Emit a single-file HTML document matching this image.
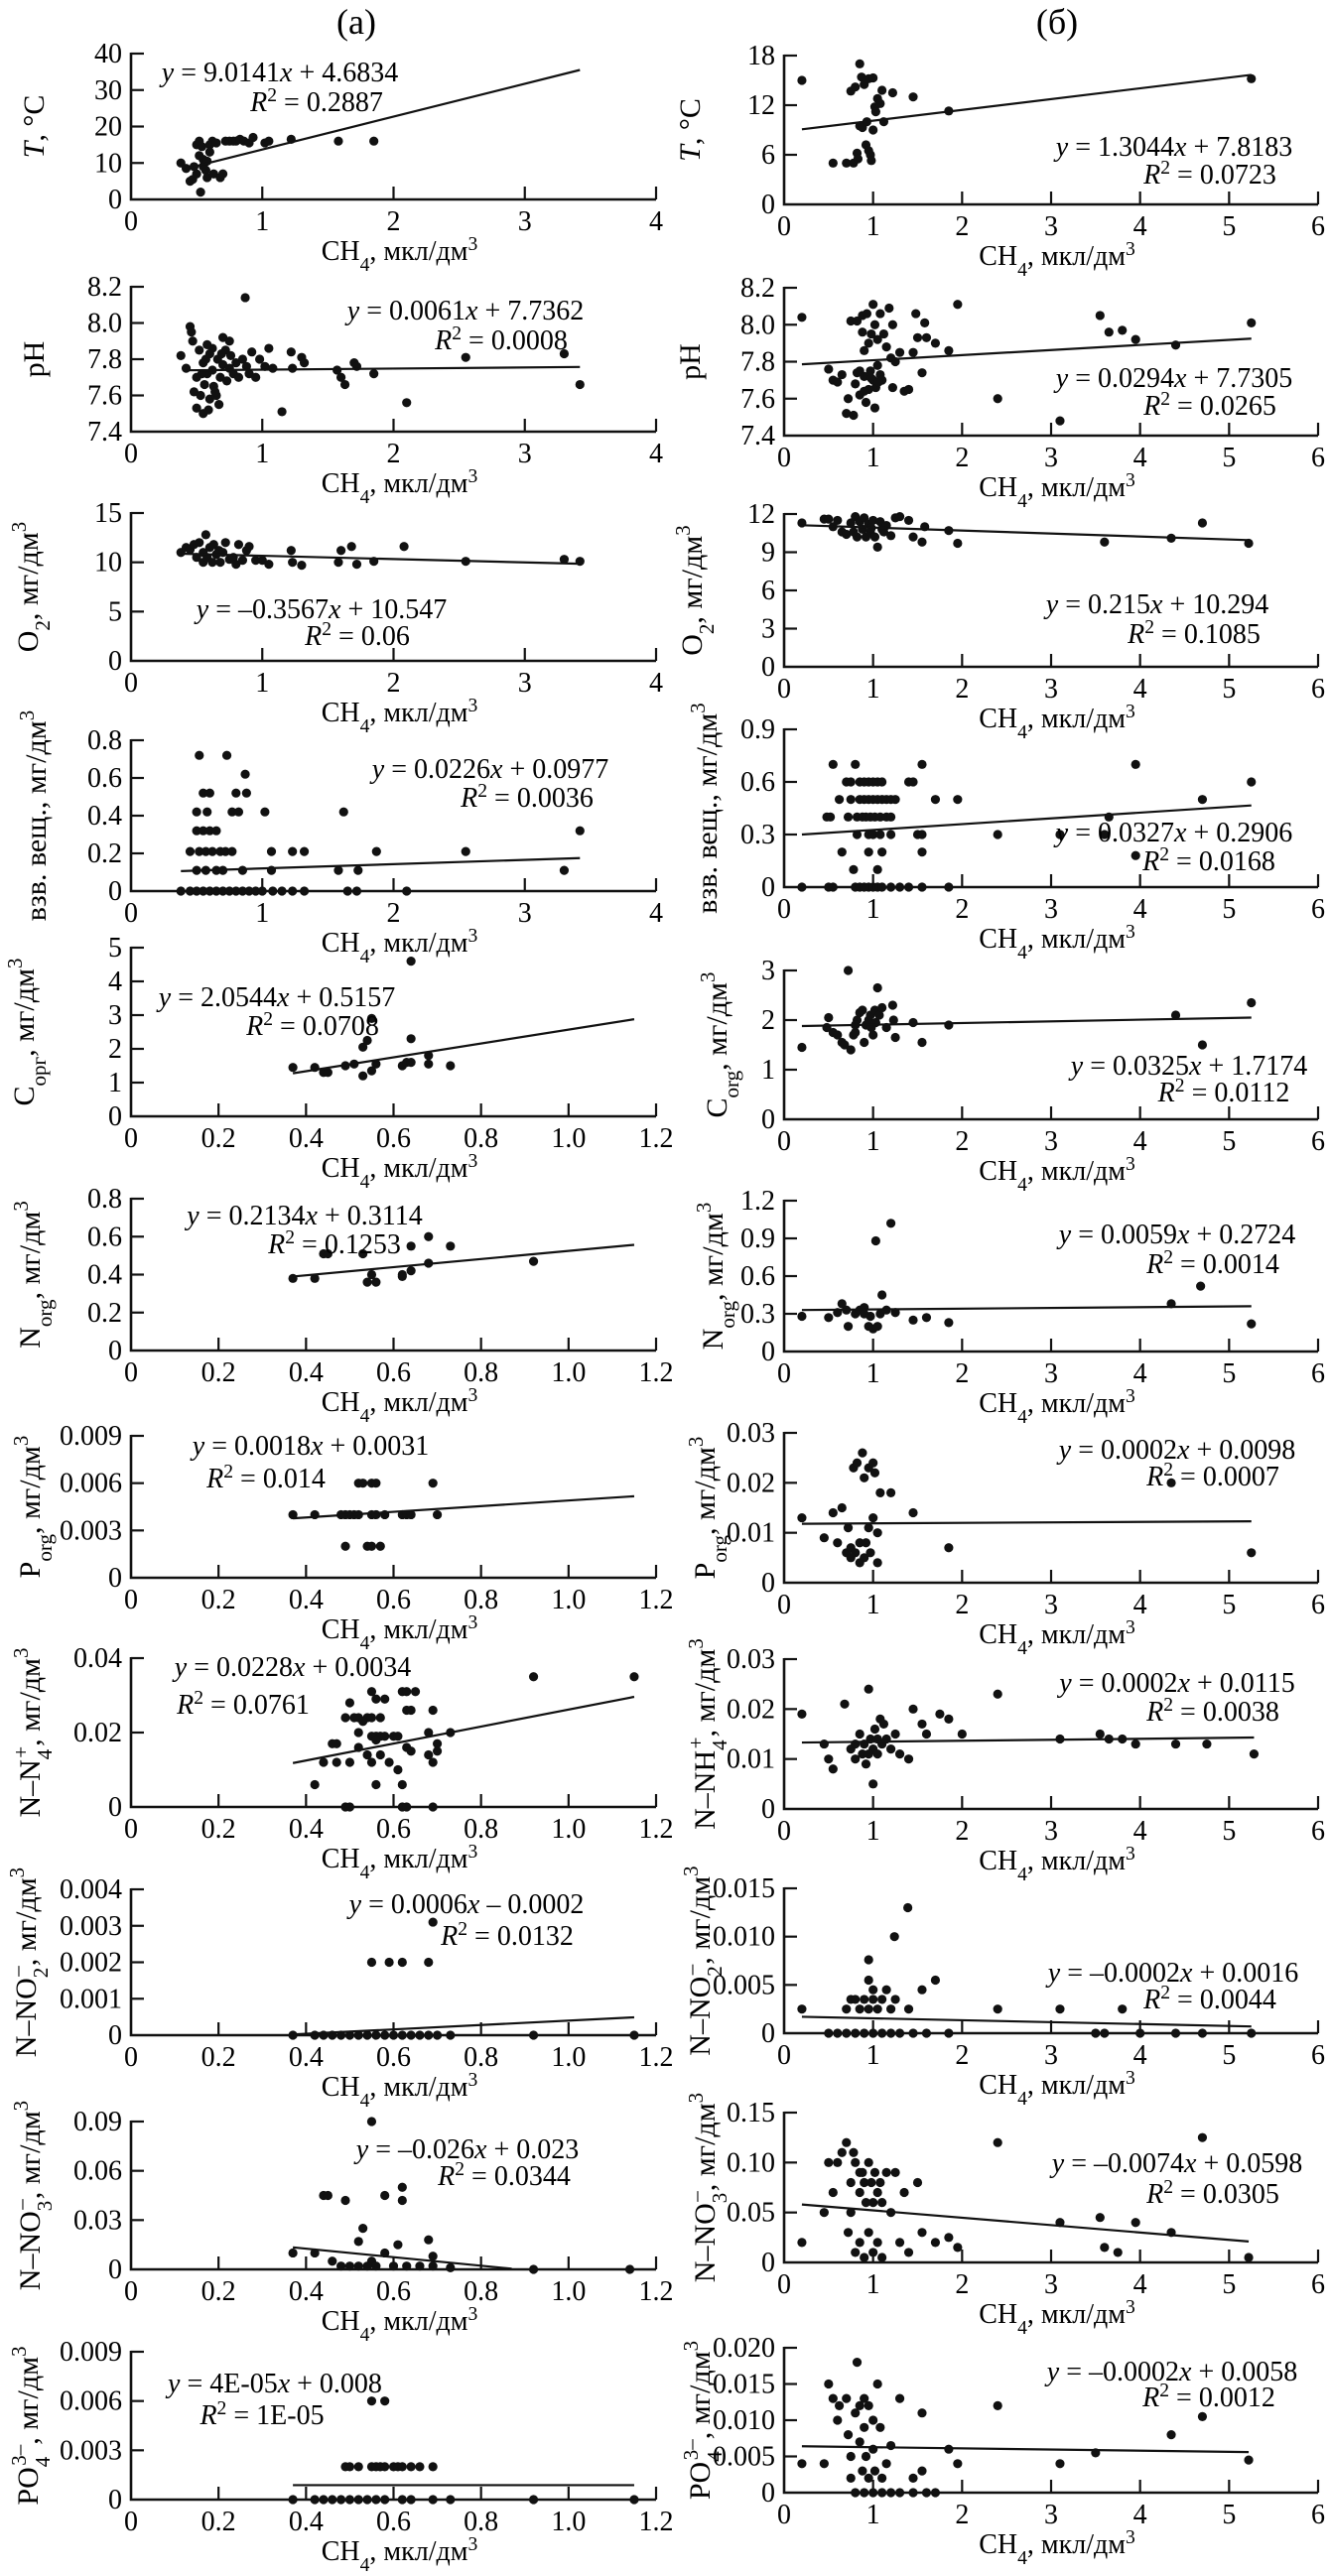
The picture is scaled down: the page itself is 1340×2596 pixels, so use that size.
<!DOCTYPE html>
<html><head><meta charset="utf-8">
<style>
html,body{margin:0;padding:0;background:#fff;}
svg{display:block;font-family:"Liberation Serif",serif;}
</style></head>
<body>
<svg id="fig" width="1340" height="2596" viewBox="0 0 1340 2596" xmlns="http://www.w3.org/2000/svg">
<text x="359" y="34" font-size="36" text-anchor="middle">(a)</text>
<text x="1065" y="34" font-size="36" text-anchor="middle">(б)</text>
</svg>
<script>
// ---------- data: [CH4, value] pairs per panel ----------
const ptsT_a=[[.38,10],[.42,8.5],[.45,5],[.47,5.5],[.5,7],[.5,15],[.52,16],[.53,2],[.54,14.5],[.55,11],[.56,10],[.57,8],[.58,6],[.6,15],[.62,16],[.63,7],[.65,15.5],[.68,6],[.7,7],[.72,16],[.75,16],[.78,16],[.8,16],[.83,16.5],[.86,16],[.9,15.5],[.93,17],[1.02,15.5],[1.05,16],[1.22,16.5],[1.58,16],[1.85,16],[.52,12],[.55,9],[.58,10.5],[.6,13],[.48,9]];
const ptsPH_a=[[.38,7.82],[.42,7.75],[.45,7.98],[.46,7.95],[.47,7.9],[.48,7.62],[.5,7.53],[.5,7.7],[.52,7.85],[.53,7.6],[.55,7.78],[.55,7.5],[.56,7.66],[.57,7.8],[.58,7.72],[.6,7.83],[.6,7.58],[.62,7.86],[.62,7.74],[.63,7.65],[.65,7.6],[.66,7.8],[.67,7.55],[.68,7.7],[.7,7.92],[.7,7.77],[.72,7.85],[.73,7.68],[.75,7.75],[.76,7.82],[.78,7.72],[.8,7.78],[.82,7.7],[.85,7.8],[.87,8.14],[.88,7.76],[.9,7.72],[.92,7.84],[.95,7.7],[.98,7.8],[1.02,7.76],[1.05,7.86],[1.08,7.75],[1.15,7.51],[1.22,7.84],[1.23,7.75],[1.3,7.81],[1.32,7.78],[1.57,7.74],[1.6,7.7],[1.63,7.66],[1.7,7.78],[1.72,7.76],[1.85,7.72],[2.1,7.56],[2.55,7.81],[3.3,7.83],[3.42,7.66],[.58,7.88],[.64,7.62],[.69,7.83],[.54,7.72],[.59,7.52],[.75,7.9]];
const ptsO2_a=[[.38,11],[.42,11.5],[.45,11.3],[.48,11.8],[.5,10.5],[.52,12],[.55,11],[.55,10],[.57,12.8],[.58,10.5],[.6,11.5],[.62,10],[.63,11.8],[.65,10.8],[.67,11.2],[.68,10],[.7,11],[.72,12],[.75,10.3],[.78,10.5],[.8,9.8],[.82,11.8],[.85,10.2],[.88,11.2],[.9,11.6],[.95,10.2],[1.0,10.2],[1.05,9.8],[1.22,11.2],[1.23,10],[1.3,9.7],[1.58,10],[1.6,11.2],[1.68,11.6],[1.72,9.8],[1.85,10.1],[2.08,11.6],[2.55,10.1],[3.3,10.3],[3.42,10.1]];
const ptsSS_a=[[.52,.72],[.73,.72],[.87,.62],[.55,.52],[.6,.52],[.8,.52],[.88,.52],[.5,.42],[.58,.42],[.77,.42],[.82,.42],[1.02,.42],[1.62,.42],[.5,.32],[.55,.32],[.6,.32],[.65,.32],[3.42,.32],[.45,.21],[.52,.21],[.57,.21],[.62,.21],[.68,.21],[.72,.21],[.77,.21],[1.07,.21],[1.23,.21],[1.32,.21],[1.87,.21],[2.55,.21],[.5,.11],[.57,.11],[.65,.11],[.7,.11],[.85,.11],[1.07,.11],[1.58,.11],[1.73,.11],[3.3,.11],[.38,0],[.45,0],[.5,0],[.55,0],[.6,0],[.65,0],[.7,0],[.75,0],[.8,0],[.85,0],[.9,0],[.95,0],[1.0,0],[1.08,0],[1.15,0],[1.23,0],[1.32,0],[1.65,0],[1.72,0],[2.1,0]];
const ptsC_a=[[.37,1.45],[.42,1.45],[.44,1.3],[.45,1.3],[.49,1.5],[.51,1.55],[.53,1.2],[.53,2.05],[.54,2.25],[.55,2.9],[.55,1.35],[.56,1.55],[.62,1.5],[.63,1.6],[.64,1.6],[.64,2.3],[.64,4.6],[.68,1.8],[.68,1.55],[.73,1.5]];
const ptsN_a=[[.37,.38],[.42,.38],[.44,.51],[.45,.51],[.53,.51],[.54,.36],[.55,.4],[.56,.36],[.62,.4],[.62,.39],[.64,.42],[.64,.55],[.68,.46],[.68,.6],[.73,.55],[.92,.47]];
const ptsP_a=[[.52,.006],[.53,.006],[.55,.006],[.56,.006],[.69,.006],[.37,.004],[.42,.004],[.48,.004],[.49,.004],[.5,.004],[.51,.004],[.52,.004],[.55,.004],[.56,.004],[.58,.004],[.62,.004],[.63,.004],[.64,.004],[.7,.004],[.49,.002],[.54,.002],[.55,.002],[.57,.002]];
const ptsNH4_a=[[.92,.035],[1.15,.035],[.55,.031],[.62,.031],[.63,.031],[.65,.031],[.56,.029],[.58,.029],[.5,.028],[.63,.026],[.64,.026],[.69,.026],[.49,.024],[.51,.024],[.52,.024],[.54,.024],[.55,.024],[.57,.024],[.53,.023],[.52,.02],[.68,.02],[.55,.019],[.56,.019],[.57,.019],[.58,.019],[.6,.019],[.61,.019],[.56,.018],[.46,.017],[.47,.017],[.7,.017],[.52,.016],[.63,.016],[.64,.015],[.7,.015],[.54,.014],[.57,.014],[.68,.014],[.44,.012],[.47,.012],[.5,.012],[.55,.012],[.59,.012],[.69,.012],[.61,.01],[.42,.006],[.56,.006],[.62,.006],[.49,0],[.5,0],[.62,0],[.63,0],[.69,0],[.73,.02]];
const ptsNO2_a=[[.69,.0031],[.55,.002],[.59,.002],[.62,.002],[.68,.002],[.37,0],[.42,0],[.44,0],[.46,0],[.48,0],[.5,0],[.52,0],[.54,0],[.56,0],[.58,0],[.6,0],[.62,0],[.64,0],[.66,0],[.68,0],[.7,0],[.73,0],[.92,0],[1.15,0]];
const ptsNO3_a=[[.55,.09],[.44,.045],[.45,.045],[.58,.045],[.49,.042],[.62,.042],[.62,.05],[.53,.025],[.52,.017],[.68,.018],[.61,.015],[.37,.01],[.42,.01],[.58,.01],[.69,.008],[.46,.005],[.55,.005],[.48,.002],[.5,.002],[.52,.002],[.54,.002],[.56,.002],[.6,.002],[.63,.002],[.66,.002],[.69,.002],[.73,.001],[.92,0],[1.14,0]];
const ptsPO4_a=[[.55,.006],[.58,.006],[.49,.002],[.5,.002],[.52,.002],[.55,.002],[.56,.002],[.57,.002],[.58,.002],[.6,.002],[.61,.002],[.62,.002],[.64,.002],[.66,.002],[.69,.002],[.37,0],[.42,0],[.44,0],[.46,0],[.48,0],[.5,0],[.52,0],[.54,0],[.56,0],[.58,0],[.62,0],[.64,0],[.69,0],[.73,0],[.92,0],[1.15,0]];

const ptsT_b=[[.2,15],[.55,5],[.7,5],[.75,13.7],[.78,5],[.8,14.2],[.82,6.2],[.83,5.5],[.85,17],[.85,9.5],[.87,15.4],[.88,9.3],[.9,14.5],[.92,7.2],[.93,10],[.95,6.5],[.95,15.2],[.97,6],[.98,5.3],[1.0,15.3],[1.0,9],[1.02,11.8],[1.03,11.2],[1.05,12.8],[1.08,12.2],[1.1,13.8],[1.12,10],[1.22,13.5],[1.45,13],[1.85,11.3],[5.25,15.2]];
const ptsPH_b=[[.2,8.04],[.5,7.76],[.55,7.7],[.6,7.69],[.65,7.73],[.7,7.52],[.72,7.6],[.75,8.02],[.78,7.51],[.8,7.68],[.82,8.02],[.85,7.62],[.85,7.75],[.88,8.05],[.88,7.96],[.9,7.72],[.9,7.86],[.92,7.58],[.93,8.06],[.95,7.65],[.95,7.9],[.97,7.75],[.98,7.95],[1.0,8.11],[1.0,7.7],[1.02,8.0],[1.02,7.55],[1.03,7.66],[1.05,7.92],[1.05,7.78],[1.08,8.06],[1.08,7.73],[1.1,7.7],[1.12,7.95],[1.15,7.88],[1.18,8.09],[1.2,7.82],[1.22,8.0],[1.22,7.66],[1.25,7.8],[1.3,7.85],[1.35,7.64],[1.4,7.65],[1.45,7.85],[1.48,8.06],[1.5,7.93],[1.55,7.74],[1.58,8.01],[1.6,7.93],[1.7,7.9],[1.85,7.86],[1.95,8.11],[2.4,7.6],[3.1,7.48],[3.55,8.05],[3.65,7.96],[3.8,7.97],[3.95,7.92],[4.4,7.89],[5.25,8.01],[.82,7.74],[.9,7.64],[.98,7.71],[1.06,7.69]];
const ptsO2_b=[[.2,11.3],[.45,11.6],[.5,11.6],[.55,11],[.6,11.5],[.65,10.6],[.7,10.4],[.75,11.3],[.8,11.8],[.82,10.2],[.85,11.4],[.88,10.8],[.9,11.7],[.92,10.2],[.95,11.2],[.97,10.6],[1.0,11.5],[1.02,10.2],[1.05,9.4],[1.08,11.4],[1.1,10.8],[1.15,11.1],[1.2,10.3],[1.25,11.7],[1.3,11.8],[1.4,11.5],[1.45,10.2],[1.55,9.8],[1.58,11],[1.85,10.7],[1.95,9.7],[3.6,9.8],[4.35,10.1],[4.7,11.3],[5.22,9.7],[.78,10.6],[.98,10.9],[1.12,10.6]];
const ptsSS_b=[[.55,.7],[.8,.7],[1.55,.7],[3.95,.7],[.7,.6],[.75,.6],[.85,.6],[.9,.6],[.95,.6],[1.0,.6],[1.05,.6],[1.1,.6],[1.4,.6],[1.45,.6],[5.25,.6],[.62,.5],[.75,.5],[.85,.5],[.9,.5],[.95,.5],[1.0,.5],[1.05,.5],[1.1,.5],[1.15,.5],[1.2,.5],[1.25,.5],[1.7,.5],[1.95,.5],[4.7,.5],[.48,.4],[.52,.4],[.72,.4],[.82,.4],[.88,.4],[.92,.4],[.97,.4],[1.02,.4],[1.08,.4],[1.15,.4],[1.2,.4],[3.65,.4],[.82,.3],[.95,.3],[1.0,.3],[1.08,.3],[1.2,.3],[1.5,.3],[1.55,.3],[2.4,.3],[3.1,.3],[3.6,.3],[.65,.2],[.95,.2],[1.1,.2],[1.55,.2],[3.95,.18],[.78,.1],[1.05,.1],[.2,0],[.5,0],[.55,0],[.8,0],[.85,0],[.9,0],[.95,0],[1.0,0],[1.05,0],[1.1,0],[1.2,0],[1.3,0],[1.4,0],[1.55,0],[1.85,0]];
const ptsC_b=[[.2,1.45],[.48,1.85],[.5,2.05],[.55,1.75],[.6,1.7],[.65,1.55],[.68,1.5],[.72,3.0],[.75,1.4],[.78,1.7],[.8,1.75],[.82,2.0],[.85,2.15],[.88,2.2],[.9,1.55],[.92,1.9],[.95,2.0],[.97,2.1],[1.0,1.7],[1.02,2.2],[1.03,1.95],[1.05,2.65],[1.07,2.1],[1.1,2.25],[1.15,1.85],[1.22,2.3],[1.23,2.0],[1.25,1.65],[1.45,1.95],[1.55,1.55],[1.85,1.9],[4.4,2.1],[4.7,1.5],[5.25,2.35],[.8,1.9],[.98,1.85]];
const ptsN_b=[[.2,.28],[.5,.27],[.65,.38],[.7,.33],[.72,.2],[.8,.3],[.85,.33],[.9,.35],[.95,.2],[.97,.28],[1.0,.18],[1.03,.88],[1.05,.2],[1.08,.3],[1.1,.45],[1.15,.33],[1.2,1.02],[1.25,.31],[1.45,.25],[1.6,.27],[1.85,.23],[4.35,.38],[4.68,.52],[5.25,.22],[.6,.31],[.9,.3]];
const ptsP_b=[[.2,.013],[.45,.009],[.55,.014],[.6,.008],[.65,.015],[.7,.006],[.72,.011],[.75,.007],[.78,.023],[.8,.006],[.82,.024],[.85,.008],[.88,.026],[.9,.005],[.9,.021],[.92,.008],[.95,.023],[.97,.006],[1.0,.024],[1.0,.013],[1.02,.022],[1.05,.01],[1.05,.004],[1.08,.018],[1.2,.018],[1.45,.014],[1.85,.007],[4.35,.02],[5.25,.006],[.75,.005],[.85,.004],[.95,.011]];
const ptsNH4_b=[[.2,.019],[.45,.013],[.5,.01],[.55,.008],[.68,.021],[.75,.012],[.8,.01],[.85,.015],[.88,.011],[.9,.013],[.92,.009],[.95,.024],[.97,.014],[1.0,.005],[1.0,.012],[1.02,.016],[1.05,.011],[1.08,.018],[1.1,.013],[1.12,.017],[1.15,.014],[1.2,.012],[1.25,.015],[1.3,.011],[1.4,.01],[1.45,.02],[1.55,.017],[1.6,.015],[1.75,.019],[1.85,.018],[2.0,.015],[2.4,.023],[3.1,.014],[3.55,.015],[3.65,.014],[3.8,.014],[3.95,.013],[4.4,.013],[4.75,.013],[5.28,.011],[.8,.013],[.95,.011],[1.05,.014]];
const ptsNO2_b=[[.2,.0025],[.7,.0025],[.75,.0035],[.8,.0035],[.85,.0025],[.9,.0035],[.95,.0025],[.95,.0055],[.95,.0076],[1.0,.0035],[1.0,.0045],[1.05,.0025],[1.1,.0035],[1.15,.0045],[1.2,.0025],[1.25,.0035],[1.24,.01],[1.39,.013],[1.4,.0025],[1.55,.0045],[1.7,.0055],[2.4,.0025],[3.1,.0025],[3.8,.0025],[.5,0],[.6,0],[.7,0],[.8,0],[.9,0],[1.0,0],[1.1,0],[1.2,0],[1.3,0],[1.45,0],[1.6,0],[1.85,0],[3.5,0],[3.6,0],[4.0,0],[4.4,0],[4.7,0],[5.25,0]];
const ptsNO3_b=[[.2,.02],[.45,.05],[.5,.1],[.55,.07],[.6,.1],[.65,.11],[.7,.12],[.72,.03],[.75,.08],[.78,.11],[.8,.1],[.8,.01],[.85,.07],[.85,.02],[.88,.09],[.9,.08],[.9,.005],[.92,.06],[.95,.1],[.95,.03],[.98,.08],[1.0,.06],[1.0,.01],[1.02,.09],[1.05,.07],[1.05,.02],[1.08,.08],[1.1,.06],[1.1,.005],[1.15,.09],[1.2,.05],[1.25,.09],[1.3,.02],[1.35,.07],[1.4,.01],[1.5,.08],[1.55,.03],[1.7,.02],[1.85,.025],[1.95,.015],[2.4,.12],[3.1,.04],[3.55,.045],[3.6,.015],[3.75,.01],[3.95,.04],[4.35,.03],[4.7,.125],[5.22,.005],[.85,.09],[.75,.05]];
const ptsPO4_b=[[.2,.004],[.45,.004],[.5,.015],[.55,.013],[.6,.01],[.62,.012],[.7,.013],[.72,.008],[.75,.005],[.75,.002],[.8,.011],[.82,.018],[.85,.012],[.85,.007],[.88,.003],[.9,.013],[.9,.009],[.92,.005],[.95,.012],[.95,.002],[1.0,.01],[1.0,.006],[1.02,.003],[1.05,.015],[1.08,.009],[1.1,.002],[1.15,.004],[1.2,.0065],[1.3,.013],[1.45,.002],[1.55,.003],[1.55,.011],[1.85,.006],[1.95,.004],[2.4,.012],[3.1,.004],[3.5,.0055],[4.35,.008],[4.7,.0105],[5.22,.0045],[.8,0],[.9,0],[1.0,0],[1.1,0],[1.2,0],[1.3,0],[1.45,0],[1.6,0],[1.7,0]];

// trend lines as [x0, y0, x1, y1] in data units
const trendsA=[[.4,8.29,3.42,35.51],[.4,7.7386,3.42,7.7571],[.38,10.87,3.42,9.85],[.38,.106,3.42,.175],[.37,1.276,1.15,2.878],[.37,.39,1.15,.557],[.37,.00377,1.15,.00517],[.37,.0118,1.15,.0296],[.37,.00002,1.15,.00049],[.37,.0134,.87,.0004],[.37,.00088,1.15,.00088]];
const trendsB=[[.2,9.08,5.25,15.67],[.2,7.786,5.25,7.925],[.2,11.12,5.22,9.95],[.2,.3,5.25,.466],[.2,1.88,5.25,2.05],[.2,.33,5.25,.36],[.2,.0118,5.25,.0123],[.2,.0133,5.28,.0143],[.2,.0017,5.25,.0007],[.2,.058,5.22,.021],[.2,.0064,5.22,.0056]];

const eqA=[["9.0141","+ 4.6834","0.2887"],["0.0061","+ 7.7362","0.0008"],["–0.3567","+ 10.547","0.06"],["0.0226","+ 0.0977","0.0036"],["2.0544","+ 0.5157","0.0708"],["0.2134","+ 0.3114","0.1253"],["0.0018","+ 0.0031","0.014"],["0.0228","+ 0.0034","0.0761"],["0.0006","– 0.0002","0.0132"],["–0.026","+ 0.023","0.0344"],["4E-05","+ 0.008","1E-05"]];
const eqB=[["1.3044","+ 7.8183","0.0723"],["0.0294","+ 7.7305","0.0265"],["0.215","+ 10.294","0.1085"],["0.0327","+ 0.2906","0.0168"],["0.0325","+ 1.7174","0.0112"],["0.0059","+ 0.2724","0.0014"],["0.0002","+ 0.0098","0.0007"],["0.0002","+ 0.0115","0.0038"],["–0.0002","+ 0.0016","0.0044"],["–0.0074","+ 0.0598","0.0305"],["–0.0002","+ 0.0058","0.0012"]];

const yTicksA=[["0","10","20","30","40"],["7.4","7.6","7.8","8.0","8.2"],["0","5","10","15"],["0","0.2","0.4","0.6","0.8"],["0","1","2","3","4","5"],["0","0.2","0.4","0.6","0.8"],["0","0.003","0.006","0.009"],["0","0.02","0.04"],["0","0.001","0.002","0.003","0.004"],["0","0.03","0.06","0.09"],["0","0.003","0.006","0.009"]];
const yTicksB=[["0","6","12","18"],["7.4","7.6","7.8","8.0","8.2"],["0","3","6","9","12"],["0","0.3","0.6","0.9"],["0","1","2","3"],["0","0.3","0.6","0.9","1.2"],["0","0.01","0.02","0.03"],["0","0.01","0.02","0.03"],["0","0.005","0.010","0.015"],["0","0.05","0.10","0.15"],["0","0.005","0.010","0.015","0.020"]];
const xTicksA4=["0","1","2","3","4"];
const xTicksA12=["0","0.2","0.4","0.6","0.8","1.0","1.2"];
const xTicksB=["0","1","2","3","4","5","6"];

// ---------- layout ----------
const SUB=s=>`<tspan baseline-shift="sub" font-size="70%">${s}</tspan>`;
const SUP=s=>`<tspan baseline-shift="super" font-size="70%">${s}</tspan>`;
const UNIT=`, мг/дм${SUP("3")}`;
const titlesA=[`<tspan font-style="italic">T</tspan>, °C`,"pH",`O${SUB("2")}${UNIT}`,`взв. вещ.,  мг/дм${SUP("3")}`,`C${SUB("орг")}${UNIT}`,`N${SUB("org")}${UNIT}`,`P${SUB("org")}${UNIT}`,`N–N${SUB("4")}<tspan dx="-9" baseline-shift="super" font-size="70%">+</tspan>${UNIT}`,`N–NO${SUB("2")}<tspan dx="-9" baseline-shift="super" font-size="70%">–</tspan>${UNIT}`,`N–NO${SUB("3")}<tspan dx="-9" baseline-shift="super" font-size="70%">–</tspan>${UNIT}`,`PO${SUB("4")}<tspan dx="-9" baseline-shift="super" font-size="70%">3–</tspan>${UNIT}`];
const titlesB=[titlesA[0],"pH",titlesA[2],titlesA[3],`C${SUB("org")}${UNIT}`,titlesA[5],titlesA[6],`N–NH${SUB("4")}<tspan dx="-9" baseline-shift="super" font-size="70%">+</tspan>${UNIT}`,titlesA[8],titlesA[9],titlesA[10]];
const panelsA=[ptsT_a,ptsPH_a,ptsO2_a,ptsSS_a,ptsC_a,ptsN_a,ptsP_a,ptsNH4_a,ptsNO2_a,ptsNO3_a,ptsPO4_a];
const panelsB=[ptsT_b,ptsPH_b,ptsO2_b,ptsSS_b,ptsC_b,ptsN_b,ptsP_b,ptsNH4_b,ptsNO2_b,ptsNO3_b,ptsPO4_b];
const names=["temperature","ph","oxygen","suspended-matter","organic-carbon","organic-nitrogen","organic-phosphorus","ammonium","nitrite","nitrate","phosphate"];
const geoA=[[54,201],[289,435],[517,666],[746,898],[955,1125],[1208,1361],[1447,1590],[1671,1821],[1904,2051],[2138,2287],[2370,2519]];
const geoB=[[56,206],[290,439],[518,672],[735,894],[978,1128],[1210,1362],[1444,1595],[1672,1823],[1903,2049],[2129,2280],[2366,2512]];
const eqPosA=[[282,82,319,112],[469,322,505,352],[324,623,360,650],[494,784,531,813],[279,1014,315,1043],[307,1234,337,1263],[313,1466,268,1499],[295,1689,245,1727],[470,1928,511,1960],[471,2175,508,2202],[277,2411,264,2443]];
const eqPosB=[[1183,157,1219,185],[1183,390,1219,418],[1166,618,1203,648],[1183,848,1218,877],[1198,1083,1233,1110],[1186,1253,1222,1283],[1186,1470,1222,1497],[1186,1705,1222,1734],[1182,1997,1219,2024],[1186,2189,1222,2220],[1181,2399,1218,2425]];
const titleXA=[44,44,38,46,34,40,40,40,36,40,38];
const titleXB=[705,705,707,722,732,728,720,720,715,720,715];

const NS="http://www.w3.org/2000/svg";
const svg=document.getElementById("fig");
function mk(tag,attrs,parent){const e=document.createElementNS(NS,tag);for(const k in attrs)e.setAttribute(k,attrs[k]);(parent||svg).appendChild(e);return e;}

function drawPanel(col,i){
  const A=col==="a";
  const pts=(A?panelsA:panelsB)[i], tr=(A?trendsA:trendsB)[i], eq=(A?eqA:eqB)[i];
  const yt=(A?yTicksA:yTicksB)[i], xt=A?(i<4?xTicksA4:xTicksA12):xTicksB;
  const [top,bot]=(A?geoA:geoB)[i], ep=(A?eqPosA:eqPosB)[i];
  const x0=A?132:790, x1=A?661:1328;
  const xmax=parseFloat(xt[xt.length-1]);
  const ymin=parseFloat(yt[0]), ymax=parseFloat(yt[yt.length-1]);
  const sx=v=>x0+(v/xmax)*(x1-x0);
  const sy=v=>bot-(v-ymin)/(ymax-ymin)*(bot-top);
  const g=mk("g",{});
  
  
  const ax=mk("path",{d:`M${x0} ${top-1}V${bot}H${x1}`,fill:"none",stroke:"#111","stroke-width":2.6},g);
  
  
  yt.forEach((lab,k)=>{
    const y=sy(parseFloat(lab));
    if(k>0){const t=mk("line",{x1:x0,x2:x0+13,y1:y,y2:y,stroke:"#111","stroke-width":2.2},g);
      
      }
    const tx=mk("text",{x:x0-9,y:y+9,"font-size":28,"text-anchor":"end"},g);
    tx.textContent=lab;
    
    
  });
  xt.forEach((lab,k)=>{
    const x=sx(parseFloat(lab));
    if(k>0){const t=mk("line",{x1:x,x2:x,y1:bot,y2:bot-13,stroke:"#111","stroke-width":2.2},g);
      
      }
    const tx=mk("text",{x:x,y:bot+31,"font-size":28,"text-anchor":"middle"},g);
    tx.textContent=lab;
    
    
  });
  const xl=mk("text",{x:(x0+x1)/2+6,y:bot+61,"font-size":28,"text-anchor":"middle"},g);
  xl.innerHTML=`CH${SUB("4")}, мкл/дм${SUP("3")}`;
  
  
  const tx=(A?titleXA:titleXB)[i], ty=(top+bot)/2;
  const yl=mk("text",{x:tx,y:ty,"font-size":30,"text-anchor":"middle",transform:`rotate(-90 ${tx} ${ty})`},g);
  yl.innerHTML=(A?titlesA:titlesB)[i];
  
  
  pts.forEach(p=>{
    const c=mk("circle",{cx:sx(p[0]),cy:sy(p[1]),r:4.6,fill:"#111"},g);
    
    
  });
  const ln=mk("line",{x1:sx(tr[0]),y1:sy(tr[1]),x2:sx(tr[2]),y2:sy(tr[3]),stroke:"#111","stroke-width":2.2},g);
  
  
  const e1=mk("text",{x:ep[0],y:ep[1],"font-size":28,"text-anchor":"middle"},g);
  e1.innerHTML=`<tspan font-style="italic">y</tspan> = ${eq[0]}<tspan font-style="italic">x</tspan> ${eq[1]}`;
  
  
  const e2=mk("text",{x:ep[2],y:ep[3],"font-size":28,"text-anchor":"middle"},g);
  e2.innerHTML=`<tspan font-style="italic">R</tspan>${SUP("2")} = ${eq[2]}`;
  
  
}
for(let i=0;i<11;i++){drawPanel("a",i);drawPanel("b",i);}
</script>
</body></html>
